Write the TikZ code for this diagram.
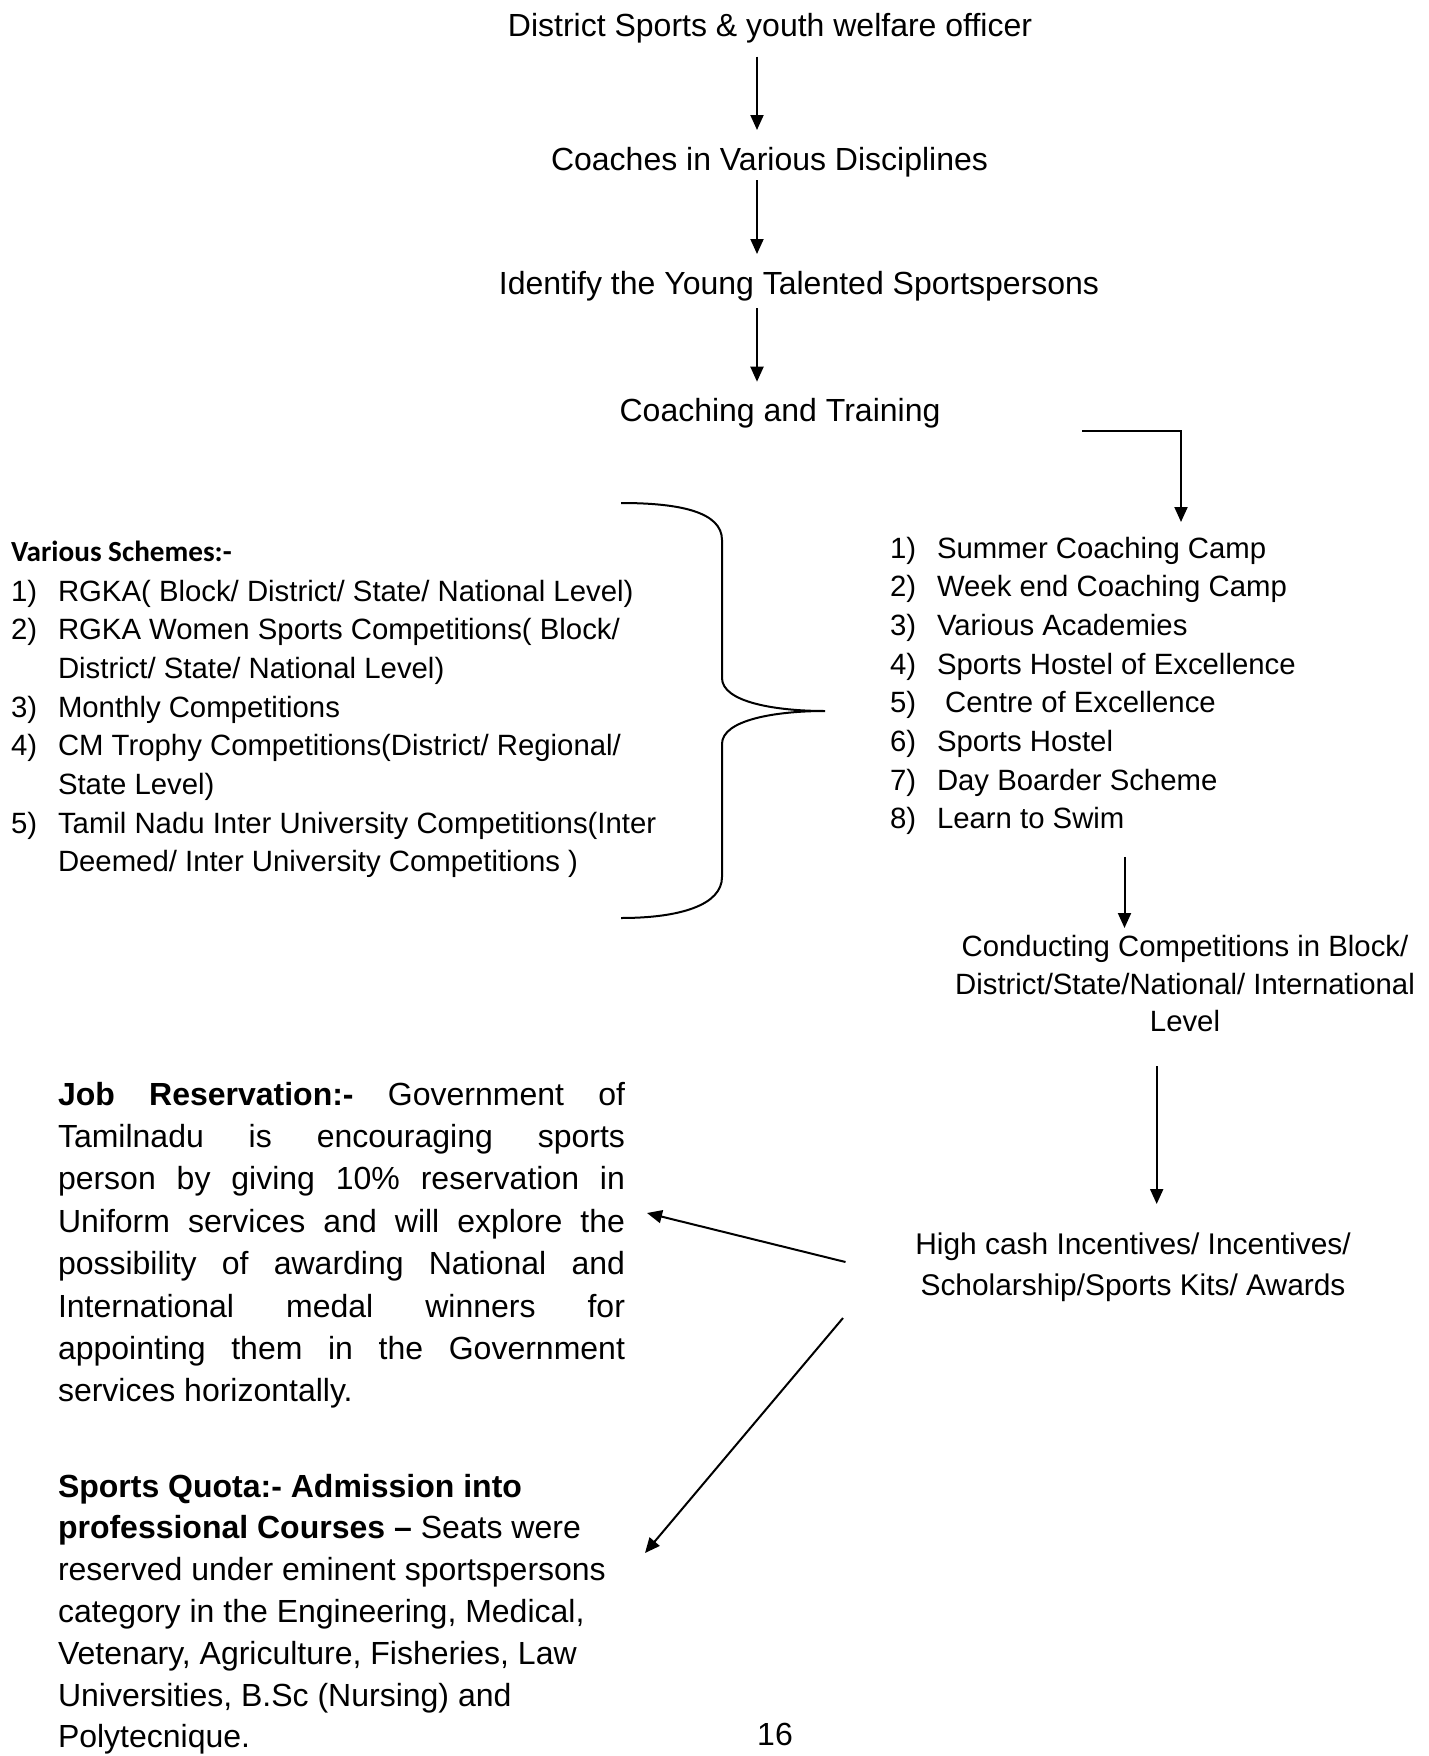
\documentclass[tikz,border=0pt]{standalone}
\usepackage{fontspec}
\setmainfont{Liberation Sans}
\newfontfamily\calib{Carlito}
\usetikzlibrary{arrows.meta,calc}
\begin{document}
\begin{tikzpicture}[x=1pt,y=-1pt,
  txt/.style={inner sep=0pt, outer sep=0pt, font=\fontsize{32}{38.6}\selectfont},
  ln/.style={txt, anchor=base west},
  ctr/.style={txt, anchor=base},
  sln/.style={ln, font=\fontsize{29.33}{35.5}\selectfont},
  sctr/.style={ctr, font=\fontsize{29.33}{35.5}\selectfont},
  arr/.style={line width=2pt, -{Triangle[length=15pt,width=13pt]}},
  brc/.style={line width=2pt}]
\useasboundingbox[fill=white] (0,0) rectangle (1429,1756);

% main chain
\node[ctr] (n1) at (770,36) {District Sports \& youth welfare officer};
\node[ctr] (n2) at (769.5,170) {Coaches in Various Disciplines};
\node[ctr] (n3) at (799,294) {Identify the Young Talented Sportspersons};
\node[ctr] (n4) at (780,421) {Coaching and Training};

\coordinate (ax) at (757,0);
\draw[arr, shorten <=20.7pt, shorten >=40pt] (n1.base -| ax) -- (n2.base -| ax);
\draw[arr, shorten <=10pt, shorten >=40pt] (n2.base -| ax) -- (n3.base -| ax);
\draw[arr, shorten <=14pt, shorten >=39.3pt] (n3.base -| ax) -- (n4.base -| ax);

% right list
\node[sln] (rn1) at (890,558) {1)};   \node[sln] (r1) at (937,558) {Summer Coaching Camp};
\node[sln] (rn2) at (890,596.7) {2)}; \node[sln] (r2) at (937,596.7) {Week end Coaching Camp};
\node[sln] (rn3) at (890,635.4) {3)}; \node[sln] (r3) at (937,635.4) {Various Academies};
\node[sln] (rn4) at (890,674.1) {4)}; \node[sln] (r4) at (937,674.1) {Sports Hostel of Excellence};
\node[sln] (rn5) at (890,712.8) {5)}; \node[sln] (r5) at (937,712.8) {\ Centre of Excellence};
\node[sln] (rn6) at (890,751.5) {6)}; \node[sln] (r6) at (937,751.5) {Sports Hostel};
\node[sln] (rn7) at (890,790.2) {7)}; \node[sln] (r7) at (937,790.2) {Day Boarder Scheme};
\node[sln] (rn8) at (890,828.9) {8)}; \node[sln] (r8) at (937,828.9) {Learn to Swim};

% left list
\node[ln, font=\calib\bfseries\fontsize{29.2}{35}\selectfont] (vs) at (11,561) {Various Schemes:-};
\node[sln] (ln1) at (11,601) {1)};   \node[sln] (l1) at (58,601) {RGKA( Block/ District/ State/ National Level)};
\node[sln] (ln2) at (11,639.7) {2)}; \node[sln] (l2) at (58,639.7) {RGKA Women Sports Competitions( Block/};
\node[sln] (l3) at (58,678.4) {District/ State/ National Level)};
\node[sln] (ln3) at (11,717.1) {3)}; \node[sln] (l4) at (58,717.1) {Monthly Competitions};
\node[sln] (ln4) at (11,755.8) {4)}; \node[sln] (l5) at (58,755.8) {CM Trophy Competitions(District/ Regional/};
\node[sln] (l6) at (58,794.5) {State Level)};
\node[sln] (ln5) at (11,833.2) {5)}; \node[sln] (l7) at (58,833.2) {Tamil Nadu Inter University Competitions(Inter};
\node[sln] (l8) at (58,871.9) {Deemed/ Inter University Competitions )};

% conducting competitions
\node[sctr] (cd1) at (1185,956) {Conducting Competitions in Block/};
\node[sctr] (cd2) at (1185,994.5) {District/State/National/ International};
\node[sctr] (cd3) at (1185,1031.7) {Level};

% incentives
\node[ctr, font=\fontsize{29.9}{36}\selectfont] (hc1) at (1133,1254) {High cash Incentives/ Incentives/};
\node[ctr, font=\fontsize{29.9}{36}\selectfont] (hc2) at (1133,1295) {Scholarship/Sports Kits/ Awards};

\coordinate (e0) at (1082,431);
\coordinate (ex) at (1181,0);
\draw[arr, shorten >=36pt] (e0) -| (r1.base -| ex);

% brace
\draw[brc] (621,503) .. controls (680,503) and (722,512) .. (722,540)
  -- (722,678) .. controls (722,702) and (775,711) .. (825,711)
  .. controls (775,711) and (722,720) .. (722,744)
  -- (722,877) .. controls (722,905) and (680,918) .. (621,918);

\coordinate (bx) at (1124.5,0);
\draw[arr, shorten <=28pt, shorten >=28pt] (r8.base -| bx) -- (cd1.base -| bx);

\coordinate (cx) at (1156.7,0);
\draw[arr, shorten <=34.3pt, shorten >=50pt] (cd3.base -| cx) -- (hc1.base -| cx);

% job reservation
\node[ln] (jr1) at (58,1105) {\makebox[567pt][s]{\textbf{Job Reservation:-} Government of}};
\node[ln] (jr2) at (58,1147.4) {\makebox[567pt][s]{Tamilnadu is encouraging sports}};
\node[ln] (jr3) at (58,1189.8) {\makebox[567pt][s]{person by giving 10\% reservation in}};
\node[ln] (jr4) at (58,1232.2) {\makebox[567pt][s]{Uniform services and will explore the}};
\node[ln] (jr5) at (58,1274.6) {\makebox[567pt][s]{possibility of awarding National and}};
\node[ln] (jr6) at (58,1317) {\makebox[567pt][s]{International medal winners for}};
\node[ln] (jr7) at (58,1359.4) {\makebox[567pt][s]{appointing them in the Government}};
\node[ln] (jr8) at (58,1401.8) {services horizontally.};

% sports quota
\node[ln] (sq1) at (58,1497) {\textbf{Sports Quota:- Admission into}};
\node[ln] (sq2) at (58,1538.8) {\textbf{professional Courses –} Seats were};
\node[ln] (sq3) at (58,1580.6) {reserved under eminent sportspersons};
\node[ln] (sq4) at (58,1622.4) {category in the Engineering, Medical,};
\node[ln] (sq5) at (58,1664.2) {Vetenary, Agriculture, Fisheries, Law};
\node[ln] (sq6) at (58,1706) {Universities, B.Sc (Nursing) and};
\node[ln] (sq7) at (58,1747.8) {Polytecnique.};

\node[ctr] (pg) at (775,1745) {16};

% slanted arrows
\coordinate (s1) at (845.5,1262);
\coordinate (t1) at (647,1213);
\coordinate (s2) at (843,1318);
\coordinate (t2) at (645,1553);
\draw[arr] (s1) -- (t1);
\draw[arr] (s2) -- (t2);
\end{tikzpicture}
\end{document}
